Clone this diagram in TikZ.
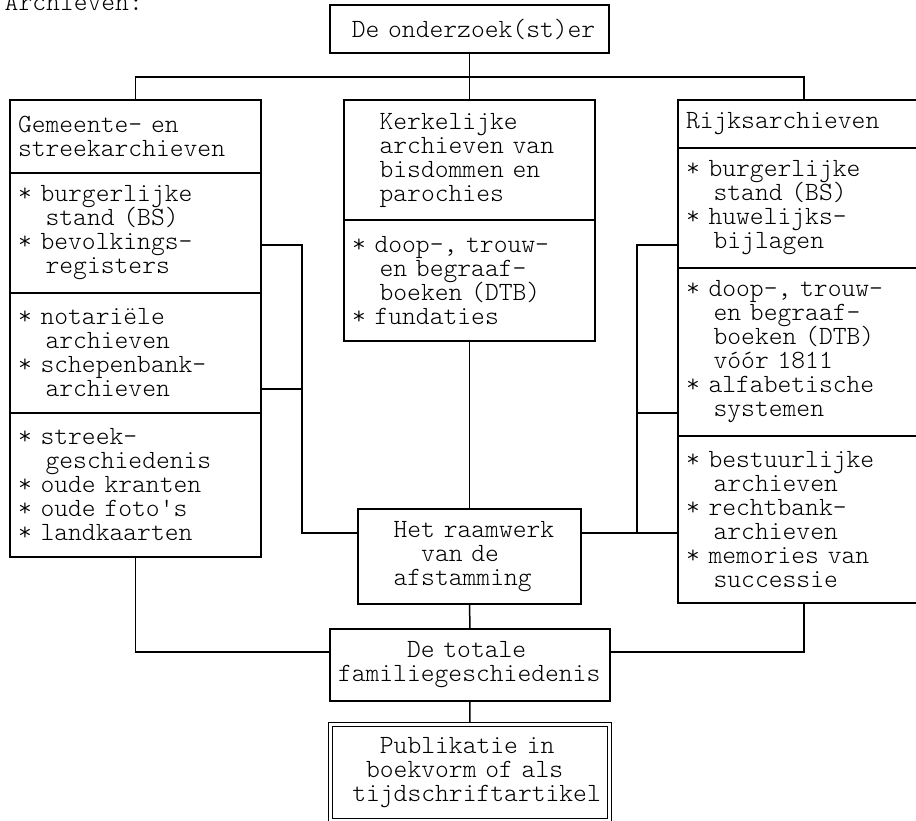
\documentclass[tikz,border=0pt]{standalone}
\newcommand\mono{\ttfamily\fontseries{l}\fontsize{26.3}{24}\selectfont\lineskiplimit=-20pt\relax}
\newcommand\ind[1]{\hspace*{#1\fontdimen2\font}}
\newcommand\bul{*\ }
\begin{document}
\begin{tikzpicture}[x=1pt,y=-1pt,line width=1.5pt]
      \useasboundingbox (0,0) rectangle (916,821);

      \node[anchor=base west,inner sep=0pt,font=\mono] (caption) at (4,11) {Archieven:};

      \begin{scope}[every node/.style={draw,rectangle,anchor=north west,outer sep=0pt,
          inner xsep=8pt,inner ysep=0pt,align=left,font=\mono}]
        \node[text width=263pt,minimum height=48pt] (top) at (330,5) {\ind{1}De onderzoek(st)er};

        \node[text width=235pt,minimum height=73pt]  (lsec1) at (10,100) {Gemeente- en\\streekarchieven};
        \node[text width=235pt,minimum height=120pt] (lsec2) at (10,173) {\bul burgerlijke\\\ind{2}stand (BS)\\\bul bevolkings-\\\ind{2}registers};
        \node[text width=235pt,minimum height=120pt] (lsec3) at (10,293) {\bul notariële\\\ind{2}archieven\\\bul schepenbank-\\\ind{2}archieven};
        \node[text width=235pt,minimum height=144pt] (lsec4) at (10,413) {\bul streek-\\\ind{2}geschiedenis\\\bul oude kranten\\\bul oude foto's\\\bul landkaarten};

        \node[text width=235pt,minimum height=120pt] (msec1) at (344,100) {\ind{2}Kerkelijke\\\ind{2}archieven van\\\ind{2}bisdommen en\\\ind{2}parochies};
        \node[text width=235pt,minimum height=121pt] (msec2) at (344,220) {\bul doop-, trouw-\\\ind{2}en begraaf-\\\ind{2}boeken (DTB)\\\bul fundaties};

        \node[text width=236pt,minimum height=48pt]  (rsec1) at (678,100) {Rijksarchieven};
        \node[text width=236pt,minimum height=120pt] (rsec2) at (678,148) {\bul burgerlijke\\\ind{2}stand (BS)\\\bul huwelijks-\\\ind{2}bijlagen};
        \node[text width=236pt,minimum height=168pt] (rsec3) at (678,268) {\bul doop-, trouw-\\\ind{2}en begraaf-\\\ind{2}boeken (DTB)\\\ind{2}vóór 1811\\\bul alfabetische\\\ind{2}systemen};
        \node[text width=236pt,minimum height=167pt] (rsec4) at (678,436) {\bul bestuurlijke\\\ind{2}archieven\\\bul rechtbank-\\\ind{2}archieven\\\bul memories van\\\ind{2}successie};

        \node[text width=207pt,minimum height=95pt] (frame) at (358,509) {\ind{2}Het raamwerk\\\ind{4}van de\\\ind{2}afstamming};
        \node[text width=264pt,minimum height=72pt] (total) at (330,629) {\ind{5}De totale\\familiegeschiedenis};

        \node[double,line width=1pt,double distance=3pt,anchor=center,outer sep=2pt,
          text width=262.5pt,minimum height=95.5pt] (pub) at (469.75,772.25)
          {\ind{3}Publikatie in\\\ind{2}boekvorm of als\\\ind{1}tijdschriftartikel};
      \end{scope}

      \coordinate (fork)  at (469.5,77);
      \coordinate (lbus1) at (302,245);
      \coordinate (lbus2) at (302,389);
      \coordinate (lbus3) at (302,533);
      \coordinate (rbus1) at (637,245);
      \coordinate (rbus2) at (637,413);
      \coordinate (rbus3) at (637,533);
      \coordinate (join)  at (469.5,652);

      \draw (top.south) -- (fork);
      \draw (lsec1.north) |- (fork) -| (rsec1.north);
      \draw (fork) -- (msec1.north);

      \draw (lsec2.east |- lbus1) -- (lbus1) -- (lbus3) -- (frame.west |- lbus3);
      \draw (lsec3.east |- lbus2) -- (lbus2);
      \draw (rsec2.west |- rbus1) -- (rbus1) -- (rbus3);
      \draw (rsec3.west |- rbus2) -- (rbus2);
      \draw (frame.east |- rbus3) -- (rsec4.west |- rbus3);

      \draw (msec2.south) -- (frame.north);
      \draw (frame.south) -- (total.north);
      \draw (lsec4.south) |- (total.west |- join);
      \draw (rsec4.south) |- (total.east |- join);
      \draw (total.south) -- (pub.north);

    \end{tikzpicture}
\end{document}
